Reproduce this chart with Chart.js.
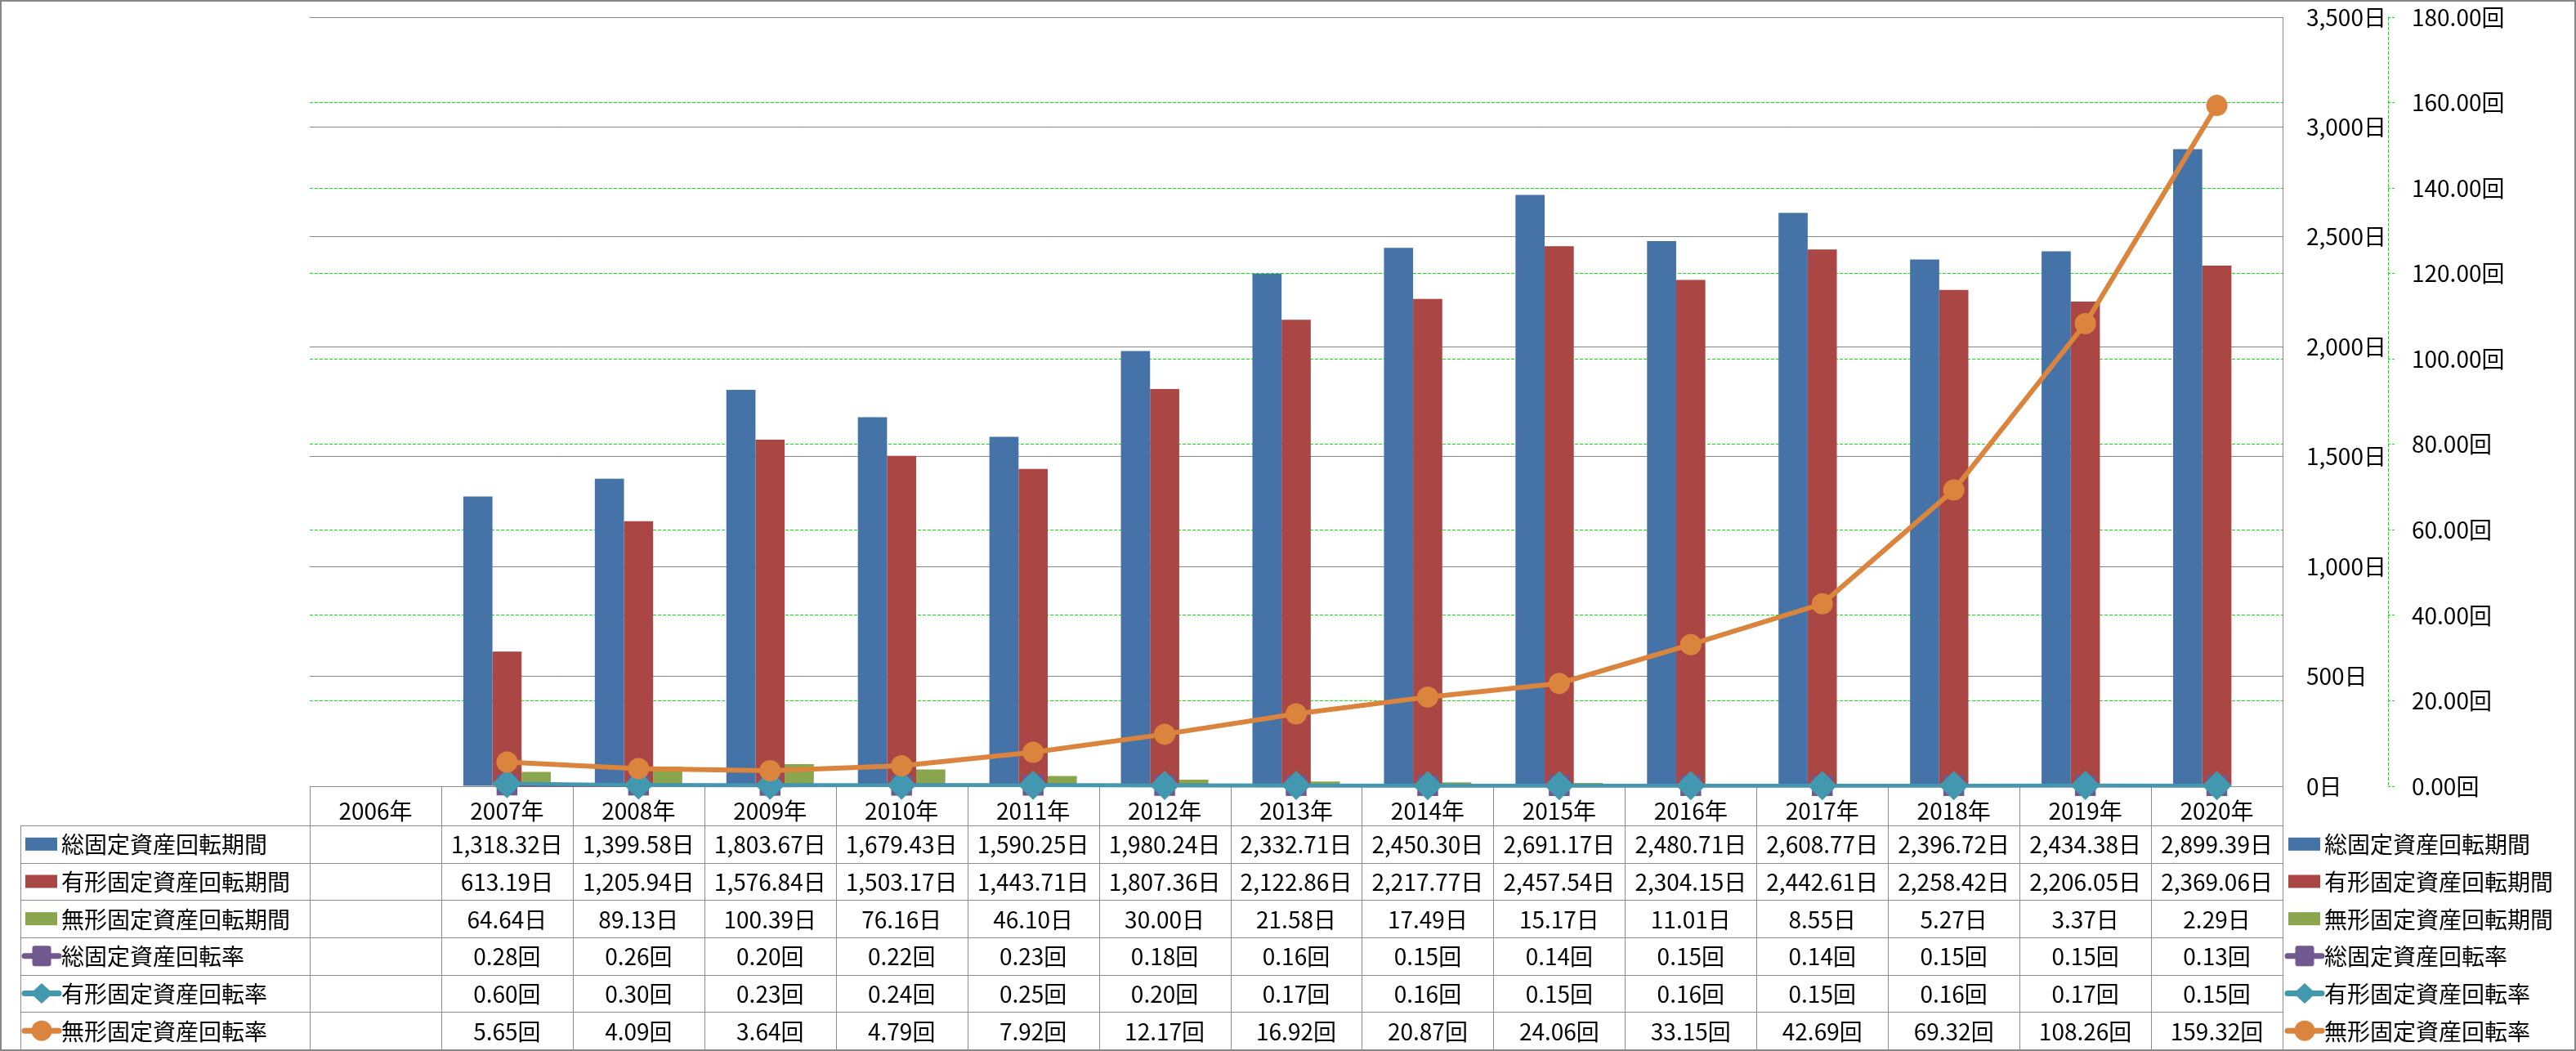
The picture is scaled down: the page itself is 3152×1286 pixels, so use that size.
<!DOCTYPE html>
<html>
<head>
<meta charset="utf-8">
<script src="https://cdn.jsdelivr.net/npm/chart.js@4"></script>
<style>
html,body{margin:0;padding:0;background:#fff;}
canvas{display:block;}
</style>
</head>
<body>
<canvas id="c" width="3152" height="1286"></canvas>
<script>
// ---- data ----
const categories = ['2006年','2007年','2008年','2009年','2010年','2011年','2012年','2013年','2014年','2015年','2016年','2017年','2018年','2019年','2020年'];
const seriesNames = ['総固定資産回転期間','有形固定資産回転期間','無形固定資産回転期間','総固定資産回転率','有形固定資産回転率','無形固定資産回転率'];
const totalPeriod = [null,1318.32,1399.58,1803.67,1679.43,1590.25,1980.24,2332.71,2450.30,2691.17,2480.71,2608.77,2396.72,2434.38,2899.39];
const tangiblePeriod = [null,613.19,1205.94,1576.84,1503.17,1443.71,1807.36,2122.86,2217.77,2457.54,2304.15,2442.61,2258.42,2206.05,2369.06];
const intangiblePeriod = [null,64.64,89.13,100.39,76.16,46.10,30.00,21.58,17.49,15.17,11.01,8.55,5.27,3.37,2.29];
const totalRate = [null,0.28,0.26,0.20,0.22,0.23,0.18,0.16,0.15,0.14,0.15,0.14,0.15,0.15,0.13];
const tangibleRate = [null,0.60,0.30,0.23,0.24,0.25,0.20,0.17,0.16,0.15,0.16,0.15,0.16,0.17,0.15];
const intangibleRate = [null,5.65,4.09,3.64,4.79,7.92,12.17,16.92,20.87,24.06,33.15,42.69,69.32,108.26,159.32];
const dayAxis = {min:0, max:3500, step:500, unit:'日'};
const rateAxis = {min:0, max:180, step:20, unit:'回'};

// ---- styles ----
const FONT = "'Noto Sans CJK JP','Noto Sans',sans-serif";
const FS = 28;
const C = {blue:'#4572A7', red:'#AA4643', green:'#89A54E', purple:'#71588F', teal:'#4198AF', orange:'#DB843D'};
const GRID_GRAY = '#868686';
const GRID_GREEN = '#00F000';

const fmtDay = v => v.toLocaleString('en-US',{minimumFractionDigits:2,maximumFractionDigits:2}) + dayAxis.unit;
const fmtRate = v => v.toFixed(2) + rateAxis.unit;

const rows = [
  {name:seriesNames[0], data:totalPeriod, fmt:fmtDay, kind:'bar', color:C.blue},
  {name:seriesNames[1], data:tangiblePeriod, fmt:fmtDay, kind:'bar', color:C.red},
  {name:seriesNames[2], data:intangiblePeriod, fmt:fmtDay, kind:'bar', color:C.green},
  {name:seriesNames[3], data:totalRate, fmt:fmtRate, kind:'line', color:C.purple, marker:'rect'},
  {name:seriesNames[4], data:tangibleRate, fmt:fmtRate, kind:'line', color:C.teal, marker:'diamond'},
  {name:seriesNames[5], data:intangibleRate, fmt:fmtRate, kind:'line', color:C.orange, marker:'circle'}
];

function drawLegendMarker(ctx, x0, cy, row){
  ctx.save();
  ctx.fillStyle = row.color;
  ctx.strokeStyle = row.color;
  if (row.kind === 'bar') {
    ctx.fillRect(x0, cy - 8, 39, 16);
  } else {
    ctx.lineWidth = 7;
    ctx.lineCap = 'round';
    ctx.beginPath();
    ctx.moveTo(x0 - 1, cy);
    ctx.lineTo(x0 + 41, cy);
    ctx.stroke();
    const mx = x0 + 20;
    ctx.beginPath();
    if (row.marker === 'rect') {
      const w = 23, h = 25, r = 3;
      ctx.roundRect ? ctx.roundRect(mx - w/2, cy - h/2, w, h, r) : ctx.rect(mx - w/2, cy - h/2, w, h);
    } else if (row.marker === 'diamond') {
      ctx.moveTo(mx, cy - 12.5);
      ctx.lineTo(mx + 13.5, cy);
      ctx.lineTo(mx, cy + 12.5);
      ctx.lineTo(mx - 13.5, cy);
      ctx.closePath();
    } else {
      ctx.arc(mx, cy, 12.5, 0, Math.PI * 2);
    }
    ctx.fill();
  }
  ctx.restore();
}

const HEADER_H = 48;
const TABLE_BOTTOM = 1284;
const LEGEND_LEFT = 25;

const tablePlugin = {
  id: 'dataTable',
  beforeDatasetsDraw(chart) {
    const {ctx, chartArea, scales:{x}} = chart;
    const n = categories.length;
    const step = x.getPixelForValue(1) - x.getPixelForValue(0);
    const right = chartArea.right;
    const headTop = chartArea.bottom;
    const bodyTop = headTop + HEADER_H;
    const rowH = (TABLE_BOTTOM - bodyTop) / rows.length;
    ctx.save();
    ctx.strokeStyle = '#8c8c8c';
    ctx.lineWidth = 1;
    ctx.beginPath();
    for (let i = 0; i <= n; i++) {
      const px = Math.round(x.getPixelForValue(0) - step/2 + i*step) + 0.5;
      ctx.moveTo(px, headTop);
      ctx.lineTo(px, TABLE_BOTTOM);
    }
    ctx.moveTo(LEGEND_LEFT + 0.5, bodyTop);
    ctx.lineTo(LEGEND_LEFT + 0.5, TABLE_BOTTOM);
    for (let r = 0; r <= rows.length; r++) {
      const py = Math.round(bodyTop + r*rowH) + 0.5;
      ctx.moveTo(LEGEND_LEFT, py);
      ctx.lineTo(right, py);
    }
    ctx.stroke();
    // top plot line (gray) over the coinciding green gridline
    ctx.strokeStyle = GRID_GRAY;
    ctx.beginPath();
    ctx.moveTo(chartArea.left, Math.round(chartArea.top) + 0.5);
    ctx.lineTo(chartArea.right, Math.round(chartArea.top) + 0.5);
    ctx.stroke();
    // secondary axis line (dashed)
    const y2 = chart.scales.y2;
    ctx.strokeStyle = GRID_GREEN;
    ctx.setLineDash([4,2]);
    ctx.beginPath();
    ctx.moveTo(Math.round(y2.left) + 0.5, chartArea.top);
    ctx.lineTo(Math.round(y2.left) + 0.5, chartArea.bottom);
    ctx.stroke();
    ctx.restore();
  },
  afterDraw(chart) {
    const {ctx, chartArea, scales:{x}} = chart;
    const headTop = chartArea.bottom;
    const bodyTop = headTop + HEADER_H;
    const rowH = (TABLE_BOTTOM - bodyTop) / rows.length;
    ctx.save();
    ctx.font = FS + 'px ' + FONT;
    ctx.fillStyle = '#000';
    ctx.textBaseline = 'middle';
    rows.forEach((row, r) => {
      const cy = bodyTop + r*rowH + rowH/2;
      drawLegendMarker(ctx, 31, cy, row);
      ctx.fillStyle = '#000';
      ctx.textAlign = 'left';
      ctx.fillText(row.name, 75, cy + 1);
      drawLegendMarker(ctx, chartArea.right + 7, cy, row);
      ctx.fillStyle = '#000';
      ctx.fillText(row.name, chartArea.right + 51, cy + 1);
      ctx.textAlign = 'center';
      row.data.forEach((v, i) => {
        if (v === null || v === undefined) return;
        ctx.fillText(row.fmt(v), x.getPixelForValue(i), cy + 1);
      });
    });
    ctx.strokeStyle = '#868686';
    ctx.lineWidth = 2;
    ctx.strokeRect(1, 1, chart.width - 2, chart.height - 2);
    ctx.restore();
  }
};

const barCommon = {type:'bar', yAxisID:'y', order:3, categoryPercentage:0.665, barPercentage:1.0, borderWidth:0, clip:false};
const lineCommon = {type:'line', yAxisID:'y2', tension:0, pointBorderWidth:0, spanGaps:true, clip:false};

new Chart(document.getElementById('c'), {
  data: {
    labels: categories,
    datasets: [
      Object.assign({}, barCommon, {label:seriesNames[0], data:totalPeriod, backgroundColor:C.blue}),
      Object.assign({}, barCommon, {label:seriesNames[1], data:tangiblePeriod, backgroundColor:C.red}),
      Object.assign({}, barCommon, {label:seriesNames[2], data:intangiblePeriod, backgroundColor:C.green}),
      Object.assign({}, lineCommon, {label:seriesNames[3], data:totalRate, borderColor:C.purple, backgroundColor:C.purple, pointBackgroundColor:C.purple, borderWidth:4.5, pointStyle:'rect', pointRadius:18, order:2}),
      Object.assign({}, lineCommon, {label:seriesNames[4], data:tangibleRate, borderColor:C.teal, backgroundColor:C.teal, pointBackgroundColor:C.teal, borderWidth:4.5, pointStyle:'rectRot', pointRadius:18, order:1}),
      Object.assign({}, lineCommon, {label:seriesNames[5], data:intangibleRate, borderColor:C.orange, backgroundColor:C.orange, pointBackgroundColor:C.orange, borderWidth:6, pointStyle:'circle', pointRadius:13, order:0})
    ]
  },
  options: {
    responsive:false,
    animation:false,
    devicePixelRatio:1,
    layout:{padding:{left:379, right:0, top:21, bottom:276}},
    plugins:{legend:{display:false}, tooltip:{enabled:false}},
    scales:{
      x:{
        type:'category', offset:true,
        grid:{display:false},
        border:{display:true, color:'#8c8c8c', width:1},
        ticks:{font:{family:FONT, size:FS}, color:'#000', padding:6, maxRotation:0, autoSkip:false},
        afterFit:s=>{s.height = HEADER_H; s.paddingLeft = 0; s.paddingRight = 0;}
      },
      y:{
        position:'right', min:dayAxis.min, max:dayAxis.max,
        ticks:{stepSize:dayAxis.step, padding:29, font:{family:FONT, size:FS}, color:'#000',
          callback:v=>v.toLocaleString('en-US') + dayAxis.unit},
        grid:{color:GRID_GRAY, lineWidth:1, drawTicks:false},
        border:{display:true, color:GRID_GRAY, width:1},
        afterFit:s=>{s.width = 129; s.paddingTop = 0; s.paddingBottom = 0;}
      },
      y2:{
        position:'right', min:rateAxis.min, max:rateAxis.max,
        ticks:{stepSize:rateAxis.step, padding:19, font:{family:FONT, size:FS}, color:'#000',
          callback:v=>v.toFixed(2) + rateAxis.unit},
        grid:{
          color:c => (c.tick && (c.tick.value === rateAxis.max || c.tick.value === rateAxis.min)) ? 'rgba(0,0,0,0)' : GRID_GREEN,
          lineWidth:1, drawOnChartArea:true, drawTicks:true, tickLength:10, tickColor:GRID_GREEN, tickBorderDash:[3,2]},
        border:{display:false, dash:[4,2]},
        afterFit:s=>{s.width = 230; s.paddingTop = 0; s.paddingBottom = 0;}
      }
    }
  },
  plugins:[tablePlugin]
});
</script>
</body>
</html>
